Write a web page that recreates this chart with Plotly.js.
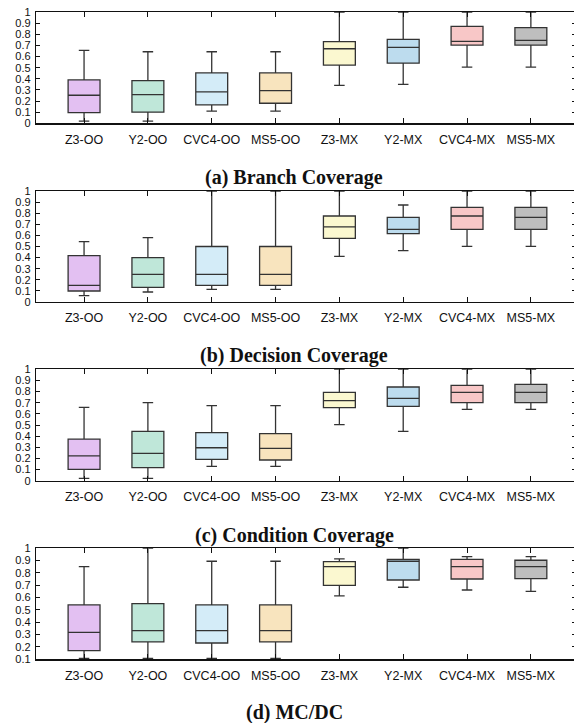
<!DOCTYPE html>
<html><head><meta charset="utf-8">
<script src="https://cdn.plot.ly/plotly-3.0.1.min.js"></script>
<style>html,body{margin:0;padding:0;overflow:hidden;background:#fff}</style>
</head><body><div id="chart"></div>
<script>
const categories = ["Z3-OO","Y2-OO","CVC4-OO","MS5-OO","Z3-MX","Y2-MX","CVC4-MX","MS5-MX"];
const colors = ["#e3c0f2","#bfe7d9","#d4ecf8","#f8e4be","#fbf8d0","#bddcee","#f8c7c7","#bebebe"];
const panelTitles = ["(a) Branch Coverage","(b) Decision Coverage","(c) Condition Coverage","(d) MC/DC"];

// Branch coverage
const branchLower  = [0.02, 0.02, 0.11, 0.11, 0.34, 0.35, 0.505, 0.505];
const branchQ1     = [0.096,0.10, 0.165,0.18, 0.523,0.54, 0.703,0.703];
const branchMedian = [0.252,0.258,0.282,0.294,0.67, 0.682,0.736,0.745];
const branchQ3     = [0.39, 0.384,0.453,0.453,0.733,0.754,0.871,0.859];
const branchUpper  = [0.655,0.643,0.643,0.643,1.0,  1.0,  1.0,  1.0];

// Decision coverage
const decisionLower  = [0.057,0.09, 0.114,0.114,0.411,0.462,0.502,0.502];
const decisionQ1     = [0.099,0.132,0.15, 0.15, 0.574,0.616,0.655,0.655];
const decisionMedian = [0.15, 0.249,0.249,0.249,0.676,0.655,0.775,0.763];
const decisionQ3     = [0.417,0.40, 0.50, 0.50, 0.775,0.763,0.853,0.853];
const decisionUpper  = [0.544,0.58, 1.0,  1.0,  1.0,  0.874,1.0,  1.0];

// Condition coverage
const conditionLower  = [0.021,0.021,0.129,0.129,0.503,0.443,0.641,0.641];
const conditionQ1     = [0.102,0.117,0.192,0.186,0.656,0.668,0.701,0.701];
const conditionMedian = [0.222,0.246,0.296,0.29, 0.719,0.739,0.793,0.793];
const conditionQ3     = [0.374,0.443,0.431,0.422,0.793,0.841,0.856,0.865];
const conditionUpper  = [0.659,0.70, 0.674,0.674,1.0,  1.0,  1.0,  1.0];

// MC/DC
const mcdcLower  = [0.108,0.108,0.108,0.108,0.614,0.684,0.662,0.651];
const mcdcQ1     = [0.170,0.241,0.232,0.241,0.70, 0.743,0.751,0.754];
const mcdcMedian = [0.319,0.332,0.332,0.332,0.851,0.895,0.851,0.851];
const mcdcQ3     = [0.541,0.551,0.541,0.541,0.892,0.911,0.911,0.903];
const mcdcUpper  = [0.851,1.0,  0.895,0.895,0.914,1.0,  0.932,0.932];

const panels = [
  {lower:branchLower,q1:branchQ1,med:branchMedian,q3:branchQ3,upper:branchUpper},
  {lower:decisionLower,q1:decisionQ1,med:decisionMedian,q3:decisionQ3,upper:decisionUpper},
  {lower:conditionLower,q1:conditionQ1,med:conditionMedian,q3:conditionQ3,upper:conditionUpper},
  {lower:mcdcLower,q1:mcdcQ1,med:mcdcMedian,q3:mcdcQ3,upper:mcdcUpper}
];

const H = 723, W = 576;
const domainsPx = [[12,123.3],[191,302],[369.3,480.7],[548.3,659.3]];
const titleY = [177, 355, 535, 712];
const yRanges = [[0,1],[0,1],[0,1],[0.1,1]];

const traces = [];
const layout = {
  width: W, height: H,
  margin: {l:0,r:0,t:0,b:0},
  paper_bgcolor: "#fff", plot_bgcolor: "#fff",
  showlegend: false,
  boxmode: "overlay",
  font: {family: "Liberation Sans, Arial, sans-serif", size: 12, color: "#111"},
  annotations: []
};

panels.forEach((p, pi) => {
  const sfx = pi === 0 ? "" : String(pi + 1);
  categories.forEach((c, ci) => {
    traces.push({
      type: "box",
      x: [c],
      lowerfence: [p.lower[ci]], q1: [p.q1[ci]], median: [p.med[ci]],
      q3: [p.q3[ci]], upperfence: [p.upper[ci]],
      fillcolor: colors[ci],
      line: {color: "#333", width: 1.3},
      width: 0.5,
      whiskerwidth: 0.33,
      boxpoints: false,
      hoverinfo: "skip",
      xaxis: "x" + sfx, yaxis: "y" + sfx
    });
  });
  const d = domainsPx[pi];
  layout["xaxis" + sfx] = {
    domain: [36 / W, 1],
    anchor: "y" + sfx,
    type: "category",
    categoryorder: "array", categoryarray: categories,
    range: [-0.753, 7.707],
    showgrid: false, zeroline: false,
    showline: true, linecolor: "#111", linewidth: 1.2, mirror: "ticks",
    ticks: "inside", ticklen: 5, tickwidth: 1, tickcolor: "#111",
    ticklabelstandoff: 4,
    tickfont: {family: "Liberation Sans, Arial, sans-serif", size: 12.5, color: "#111"}
  };
  layout["yaxis" + sfx] = {
    domain: [1 - d[1] / H, 1 - d[0] / H],
    anchor: "x" + sfx,
    range: yRanges[pi],
    tick0: yRanges[pi][0], dtick: 0.1,
    showgrid: false, zeroline: false,
    showline: true, linecolor: "#111", linewidth: 1.2, mirror: "ticks",
    ticks: "inside", ticklen: 4, tickwidth: 1, tickcolor: "#111",
    ticklabelstandoff: 2,
    tickfont: {family: "Liberation Sans, Arial, sans-serif", size: 11, color: "#111"}
  };
  layout.annotations.push({
    text: "<b>" + panelTitles[pi] + "</b>",
    xref: "paper", yref: "paper",
    x: 294 / W, y: 1 - titleY[pi] / H,
    xanchor: "center", yanchor: "middle",
    showarrow: false,
    font: {family: "Liberation Serif, DejaVu Serif, serif", size: 20, color: "#111"}
  });
});

Plotly.newPlot("chart", traces, layout, {staticPlot: true, displayModeBar: false});
</script></body></html>
